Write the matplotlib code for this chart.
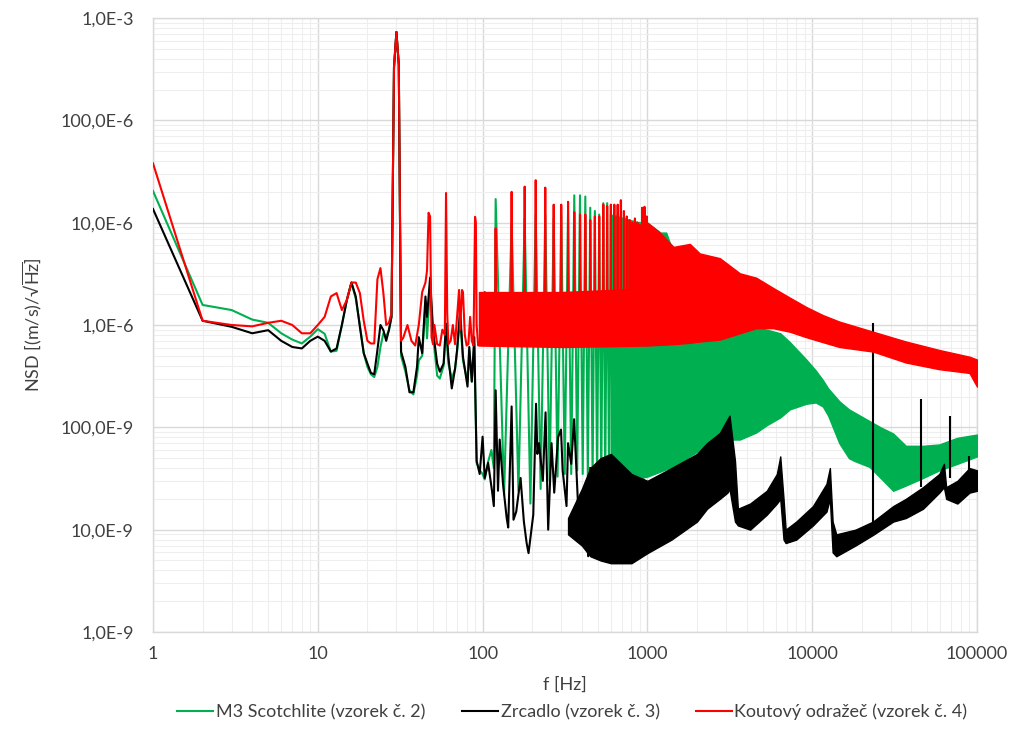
import matplotlib
matplotlib.use("Agg")
import matplotlib.pyplot as plt
from matplotlib.ticker import FixedLocator, NullFormatter, LogLocator
import numpy as np

plt.rcParams['font.family'] = ['Lato', 'DejaVu Sans']
plt.rcParams['mathtext.fontset'] = 'custom'
plt.rcParams['mathtext.rm'] = 'Lato'
plt.rcParams['mathtext.it'] = 'Lato:italic'

# ---------------- data ----------------
series_names = ["M3 Scotchlite (vzorek č. 2)", "Zrcadlo (vzorek č. 3)", "Koutový odražeč (vzorek č. 4)"]

# low-frequency part (Hz, (m/s)/sqrt(Hz))
green_f = [1, 2, 3, 4, 5, 6, 7, 8, 9, 10, 11, 12, 13, 14, 15, 16, 17, 18, 19, 20, 21, 22, 23, 24, 25, 26, 27, 28,
           29, 30, 31, 32, 34, 36, 38, 40, 41, 43, 45, 46, 48, 50, 53, 55, 58, 60, 62, 65, 68, 70, 73, 76, 81, 83,
           86, 89, 92, 96, 100, 103, 108, 113, 117]
green_v = [2.04e-5, 1.57e-6, 1.4e-6, 1.13e-6, 1.05e-6, 8.3e-7, 7.2e-7, 6.6e-7, 7.7e-7, 9.1e-7, 8.2e-7, 5.5e-7,
           5.6e-7, 1.0e-6, 1.75e-6, 2.6e-6, 1.8e-6, 1.0e-6, 5.3e-7, 3.9e-7, 3.3e-7, 3.1e-7, 3.9e-7, 6.1e-7, 8.3e-7,
           7.7e-7, 8.9e-7, 1.2e-6, 3.3e-4, 7.3e-4, 3.5e-4, 5.0e-7, 3.5e-7, 2.3e-7, 2.1e-7, 3.2e-7, 4.5e-7, 5.0e-7,
           1.6e-6, 7.4e-7, 2.5e-6, 8.0e-7, 3.2e-7, 3.0e-7, 4.0e-7, 9.0e-7, 4.2e-7, 3.0e-7, 3.7e-7, 5.5e-7, 1.2e-6,
           4.5e-7, 2.8e-7, 5.7e-7, 2.8e-7, 6.5e-7, 4.5e-8, 3.8e-8, 3.5e-8, 3.1e-8, 4.6e-8, 6.0e-8, 4.0e-8]

black_f = [1, 2, 3, 4, 5, 6, 7, 8, 9, 10, 11, 12, 13, 14, 15, 16, 17, 18, 19, 20, 21, 22, 23, 24, 25, 26, 27, 28,
           29, 30, 31, 32, 34, 36, 38, 40, 41, 43, 45, 46, 48, 50, 53, 55, 58, 60, 62, 65, 68, 70, 73, 76, 81, 83,
           86, 89, 92, 96, 100, 103, 108, 114, 117, 120, 124, 127, 133, 140, 143, 150, 154, 160, 170, 178, 185,
           190, 203, 211, 215, 220, 232, 241, 250, 262, 272, 287, 299, 306, 323, 330, 345, 359, 383, 400, 418,
           437, 450]
black_v = [1.36e-5, 1.1e-6, 9.6e-7, 8.3e-7, 8.9e-7, 7.0e-7, 6.1e-7, 5.9e-7, 7.0e-7, 7.7e-7, 7.0e-7, 5.5e-7,
           5.9e-7, 1.0e-6, 1.75e-6, 2.6e-6, 1.9e-6, 9.6e-7, 5.3e-7, 4.2e-7, 3.4e-7, 3.3e-7, 5.7e-7, 1.0e-6,
           8.9e-7, 7.0e-7, 8.9e-7, 1.2e-6, 3.3e-4, 7.3e-4, 3.5e-4, 5.5e-7, 3.9e-7, 2.2e-7, 2.2e-7, 3.9e-7,
           7.6e-7, 5.3e-7, 1.9e-6, 1.2e-6, 2.9e-6, 8.9e-7, 4.2e-7, 3.5e-7, 4.2e-7, 1.03e-6, 4.9e-7, 2.4e-7,
           3.7e-7, 5.7e-7, 1.4e-6, 4.9e-7, 2.5e-7, 6.1e-7, 2.8e-7, 7.6e-7, 4.7e-8, 3.5e-8, 8.1e-8, 3.2e-8,
           4.5e-8, 2.4e-8, 1.7e-8, 2.3e-7, 2.4e-8, 7.6e-8, 2.8e-8, 1.3e-8, 1.05e-8, 1.6e-7, 1.25e-8, 1.5e-8,
           3.2e-8, 1.2e-8, 7.4e-9, 5.9e-9, 1.4e-8, 1.7e-7, 5.5e-8, 7.0e-8, 3.0e-8, 1.4e-7, 1.0e-8, 7.0e-8,
           2.3e-8, 8.0e-8, 9.5e-8, 3.8e-8, 1.7e-8, 7.0e-8, 4.4e-8, 1.2e-7, 1.25e-8, 7.4e-9, 1.8e-8, 5.5e-9, 4.0e-8]

red_f = [1, 2, 3, 4, 5, 6, 7, 8, 9, 10, 11, 12, 13, 14, 15, 16, 17, 18, 19, 20, 21, 22, 23, 24, 25, 26, 27, 28,
         29, 30, 31, 32, 33, 35, 37, 39, 41, 43, 45, 46, 47, 48, 49, 50, 51, 53, 55, 57, 59, 60, 61, 62, 64, 66,
         68, 70, 72, 73, 75, 76, 78, 80, 82, 84, 86, 88, 89, 90, 91, 92, 94, 96, 99, 103, 105, 108, 112, 116]
red_v = [3.8e-5, 1.1e-6, 1.0e-6, 9.7e-7, 1.05e-6, 1.1e-6, 1.0e-6, 8.3e-7, 8.3e-7, 1.0e-6, 1.2e-6, 1.9e-6,
         2.05e-6, 1.4e-6, 1.75e-6, 2.6e-6, 2.6e-6, 2.05e-6, 1.1e-6, 7.0e-7, 6.6e-7, 6.6e-7, 2.8e-6, 3.6e-6,
         2.05e-6, 1.0e-6, 1.05e-6, 1.3e-6, 3.3e-4, 7.3e-4, 3.5e-4, 7.0e-7, 7.5e-7, 1.0e-6, 7.0e-7, 6.3e-7,
         1.0e-6, 2.1e-6, 2.6e-6, 3.4e-6, 1.25e-5, 1.15e-5, 7.6e-7, 6.5e-7, 1.0e-6, 6.5e-7, 6.3e-7, 9.0e-7,
         8.0e-7, 1.95e-5, 1.3e-6, 6.5e-7, 7.0e-7, 1.0e-6, 6.5e-7, 1.2e-6, 2.2e-6, 9.0e-7, 2.2e-6, 2.1e-6,
         8.0e-7, 6.3e-7, 6.5e-7, 1.2e-6, 7.0e-7, 6.3e-7, 2.5e-6, 1.14e-5, 1.0e-5, 1.0e-6, 6.3e-7, 6.5e-7,
         1.0e-6, 2.1e-6, 2.0e-6, 1.0e-6, 6.5e-7, 8.0e-7]

# comb of resonance peaks (100 Hz - 1 kHz)
comb_f = [120, 150, 180, 210, 240, 270, 300, 330, 360, 390, 420, 450, 480, 510, 540, 570, 600, 630, 660, 690,
          720, 750, 780, 810, 840, 870, 900, 930, 960, 990]
comb_mid_f = [135, 165, 195, 225, 255, 285, 315, 345, 375, 405, 435, 465, 495, 525, 555, 585, 615, 645, 675,
              705, 735, 765, 795, 825, 855, 885, 915, 945, 975, 1005]
red_comb = [8.8e-6, 2.0e-5, 2.25e-5, 2.6e-5, 2.2e-5, 1.5e-5, 1.5e-5, 1.6e-5, 1.27e-5, 1.2e-5, 1.2e-5, 1.06e-5,
            1.15e-5, 1.15e-5, 1.5e-5, 1.45e-5, 1.5e-5, 1.5e-5, 1.5e-5, 1.66e-5, 1.3e-5, 1.15e-5, 1.06e-5, 1.0e-5,
            1.1e-5, 1.0e-5, 9.5e-6, 1.4e-5, 1.43e-5, 1.15e-5]
red_comb_base = [8.0e-7, 9.0e-7, 9.0e-7, 9.0e-7, 9.0e-7, 9.0e-7, 9.0e-7, 9.0e-7, 9.0e-7, 9.0e-7, 9.0e-7, 9.0e-7,
                 9.0e-7, 9.0e-7, 9.0e-7, 9.0e-7, 9.0e-7, 9.0e-7, 9.0e-7, 9.0e-7, 9.0e-7, 9.0e-7, 9.0e-7, 9.0e-7,
                 9.0e-7, 9.0e-7, 9.0e-7, 9.0e-7, 9.0e-7, 9.0e-7]
green_comb = [1.7e-5, 1.0e-5, 1.1e-5, 1.2e-5, 1.2e-5, 1.1e-5, 1.2e-5, 1.3e-5, 1.85e-5, 1.85e-5, 1.8e-5, 1.4e-5,
              1.3e-5, 1.2e-5, 1.55e-5, 1.55e-5, 1.2e-5, 1.1e-5, 1.2e-5, 1.2e-5, 1.1e-5, 1.1e-5, 1.0e-5, 1.0e-5,
              1.0e-5, 1.0e-5, 1.0e-5, 1.0e-5, 1.0e-5, 9.0e-6]
green_trough = [2.2e-8, 2.4e-8, 1.8e-8, 2.5e-8, 3.0e-8, 3.3e-8, 3.5e-8, 3.5e-8, 3.8e-8, 3.5e-8, 3.3e-8, 3.2e-8,
                3.2e-8, 3.0e-8, 2.9e-8, 2.8e-8, 2.8e-8, 2.7e-8, 2.7e-8, 2.7e-8, 2.8e-8, 2.8e-8, 2.9e-8, 2.9e-8,
                3.0e-8, 3.0e-8, 3.1e-8, 3.2e-8, 3.3e-8, 3.4e-8]

# dense high-frequency parts: lower / upper envelopes
red_band_f = [95, 300, 600, 950, 1000, 1190, 1440, 1810, 2080, 2750, 3640, 4570, 5800, 7320, 9200, 11600,
              14600, 23400, 37000, 59000, 90000, 100000]
red_band_hi = [2.1e-6, 2.1e-6, 2.2e-6, 2.3e-6, 1.0e-5, 8.0e-6, 5.8e-6, 6.2e-6, 5.0e-6, 4.5e-6, 3.2e-6, 2.9e-6,
               2.3e-6, 1.85e-6, 1.5e-6, 1.25e-6, 1.08e-6, 8.6e-7, 6.9e-7, 5.7e-7, 4.9e-7, 4.6e-7]
red_band_lo = [6.3e-7, 6.1e-7, 6.2e-7, 6.3e-7, 6.3e-7, 6.4e-7, 6.5e-7, 6.7e-7, 6.9e-7, 7.2e-7, 8.3e-7, 9.3e-7,
               9.3e-7, 8.6e-7, 7.6e-7, 6.8e-7, 6.1e-7, 5.5e-7, 4.3e-7, 3.7e-7, 3.4e-7, 2.5e-7]

green_band_f = [600, 900, 1000, 1200, 1300, 1440, 1800, 2300, 3000, 3640, 4570, 5300, 6400, 7320, 9200, 10500,
                11600, 12500, 14600, 16700, 18000, 22300, 26000, 31000, 37000, 47000, 59000, 76000, 100000]
green_band_hi = [1.2e-5, 1.0e-5, 1.0e-5, 8.0e-6, 8.0e-6, 5.0e-6, 3.5e-6, 2.2e-6, 1.5e-6, 1.1e-6, 9.5e-7, 9.0e-7,
                 8.3e-7, 6.8e-7, 4.6e-7, 3.6e-7, 2.9e-7, 2.4e-7, 1.8e-7, 1.5e-7, 1.4e-7, 1.15e-7, 1.0e-7, 8.7e-8,
                 6.6e-8, 6.6e-8, 6.8e-8, 7.9e-8, 8.5e-8]
green_band_lo = [2.8e-8, 3.2e-8, 3.3e-8, 3.7e-8, 3.9e-8, 4.1e-8, 5.2e-8, 6.6e-8, 7.6e-8, 7.6e-8, 8.9e-8, 1.05e-7,
                 1.25e-7, 1.5e-7, 1.7e-7, 1.75e-7, 1.6e-7, 1.3e-7, 7.0e-8, 5.0e-8, 4.7e-8, 4.1e-8, 3.2e-8, 2.4e-8,
                 2.7e-8, 3.2e-8, 3.8e-8, 4.4e-8, 5.2e-8]

black_band_f = [330, 400, 450, 520, 600, 800, 1000, 1400, 2000, 2300, 2750, 3060, 3150, 3400, 3540, 4200,
                5300, 6100, 6400, 6700, 6900, 8000, 10100, 12200, 12800, 13300, 14000, 18300, 23400, 31000, 37000,
                47000, 59000, 63000, 65000, 76000, 90000, 100000]
black_band_hi = [1.3e-8, 2.5e-8, 4.0e-8, 5.0e-8, 5.5e-8, 3.5e-8, 3.0e-8, 4.0e-8, 5.5e-8, 7.0e-8, 8.8e-8,
                 1.2e-7, 1.3e-7, 4.7e-8, 1.6e-8, 1.8e-8, 2.4e-8, 3.5e-8, 5.2e-8, 2.0e-8, 1.0e-8, 1.2e-8, 1.7e-8,
                 2.8e-8, 4.0e-8, 1.2e-8, 9.0e-9, 1.0e-8, 1.2e-8, 1.7e-8, 2.0e-8, 2.6e-8, 3.5e-8, 4.4e-8, 2.6e-8,
                 3.0e-8, 4.0e-8, 3.8e-8]
black_band_lo = [9.0e-9, 7.0e-9, 5.5e-9, 5.0e-9, 4.7e-9, 4.7e-9, 5.9e-9, 8.0e-9, 1.2e-8, 1.6e-8, 2.0e-8,
                 2.3e-8, 2.5e-8, 1.2e-8, 1.1e-8, 1.0e-8, 1.4e-8, 1.8e-8, 2.0e-8, 8.0e-9, 7.4e-9, 8.0e-9, 1.1e-8,
                 1.5e-8, 2.0e-8, 6.0e-9, 5.5e-9, 7.0e-9, 8.9e-9, 1.2e-8, 1.3e-8, 1.6e-8, 2.3e-8, 2.6e-8, 2.0e-8,
                 1.8e-8, 2.3e-8, 2.4e-8]

# isolated narrow peaks of the mirror sample
black_spike_f = [23400, 45700, 68600, 90000]
black_spike_top = [1.05e-6, 1.9e-7, 1.3e-7, 5.2e-8]
black_spike_base = [1.1e-8, 2.6e-8, 3.2e-8, 3.0e-8]

x_ticks = [1, 10, 100, 1000, 10000, 100000]
x_labels = ["1", "10", "100", "1000", "10000", "100000"]
y_ticks = [1e-9, 1e-8, 1e-7, 1e-6, 1e-5, 1e-4, 1e-3]
y_labels = ["1,0E-9", "10,0E-9", "100,0E-9", "1,0E-6", "10,0E-6", "100,0E-6", "1,0E-3"]

# ---------------- figure ----------------
GREEN = "#00B050"
BLACK = "#000000"
RED = "#FF0000"
TXT = "#404040"
LW = 1.5
FS = 13

fig = plt.figure(figsize=(10.24, 7.43), dpi=100)
ax = fig.add_axes([153 / 1024, 1 - 632 / 743, (977 - 153) / 1024, (632 - 18) / 743])
ax.set_xscale("log")
ax.set_yscale("log")
ax.set_xlim(1, 100000)
ax.set_ylim(1e-9, 1e-3)

# green: low part + V-shaped comb + band
gx = list(green_f)
gy = list(green_v)
for pf, pv, mf, mv in zip(comb_f, green_comb, comb_mid_f, green_trough):
    gx += [pf, mf]
    gy += [pv, mv]
ax.plot(gx, gy, color=GREEN, lw=LW, zorder=3, label=series_names[0])
ax.fill_between(green_band_f, green_band_lo, green_band_hi, color=GREEN, lw=1.0, edgecolor=GREEN, zorder=3)

# black
ax.plot(black_f, black_v, color=BLACK, lw=LW, zorder=4, label=series_names[1])
ax.fill_between(black_band_f, black_band_lo, black_band_hi, color=BLACK, lw=1.0, edgecolor=BLACK, zorder=4)
ax.vlines(black_spike_f, black_spike_base, black_spike_top, color=BLACK, lw=LW, zorder=4)

# red: low part + narrow comb spikes + band
rx = list(red_f)
ry = list(red_v)
half_w = 1.0
for pf, pv, bv in zip(comb_f, red_comb, red_comb_base):
    rx += [pf - half_w, pf, pf + half_w]
    ry += [bv, pv, bv]
ax.plot(rx, ry, color=RED, lw=LW, zorder=5, label=series_names[2])
ax.fill_between(red_band_f, red_band_lo, red_band_hi, color=RED, lw=1.0, edgecolor=RED, zorder=5)

# grid and axes styling
ax.xaxis.set_major_locator(FixedLocator(x_ticks))
ax.set_xticklabels(x_labels)
ax.yaxis.set_major_locator(FixedLocator(y_ticks))
ax.set_yticklabels(y_labels)
ax.xaxis.set_minor_locator(LogLocator(base=10, subs=np.arange(2, 10), numticks=20))
ax.yaxis.set_minor_locator(LogLocator(base=10, subs=np.arange(2, 10), numticks=20))
ax.xaxis.set_minor_formatter(NullFormatter())
ax.yaxis.set_minor_formatter(NullFormatter())
ax.grid(which="major", color="#d9d9d9", lw=1.0, zorder=0)
ax.grid(which="minor", color="#eeeeee", lw=0.8, zorder=0)
ax.set_axisbelow(True)
for s in ax.spines.values():
    s.set_color("#d9d9d9")
    s.set_linewidth(1.0)
ax.tick_params(which="both", length=0)
ax.tick_params(axis="y", pad=14, labelsize=FS, labelcolor=TXT)
ax.tick_params(axis="x", pad=10, labelsize=FS, labelcolor=TXT)

ax.set_xlabel("f [Hz]", fontsize=FS, color=TXT)
ax.xaxis.set_label_coords(0.5, -0.072)
ax.set_ylabel(r"NSD [(m/s)/√$\overline{\mathrm{Hz}}$]", fontsize=FS, color=TXT)
ax.yaxis.set_label_coords(-0.132, 0.5)

handles, labels = ax.get_legend_handles_labels()
leg = fig.legend(handles, labels, loc="center", bbox_to_anchor=(0.559, 1 - 712 / 743), ncol=3,
                 frameon=False, fontsize=FS, handlelength=2.0, handletextpad=0.15, columnspacing=2.0,
                 labelcolor=TXT)

fig.savefig("out.png", dpi=100)
